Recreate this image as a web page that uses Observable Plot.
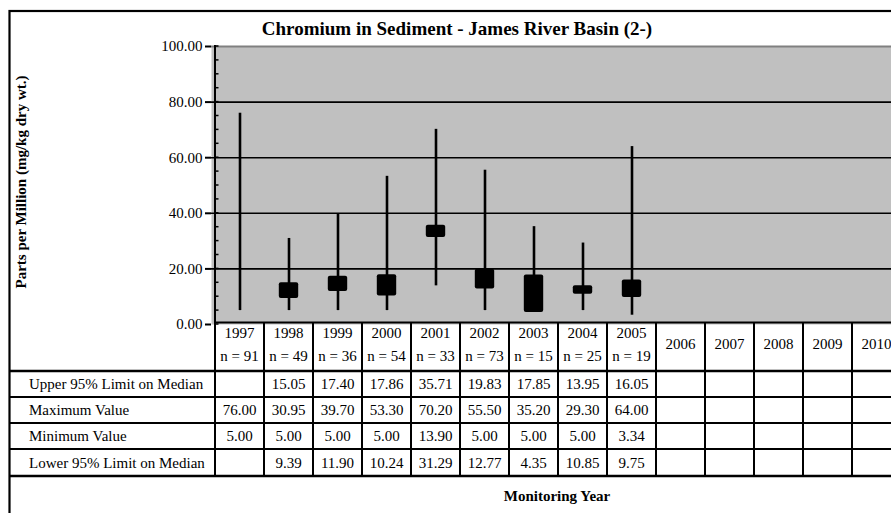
<!DOCTYPE html>
<html><head><meta charset="utf-8">
<script src="https://cdn.jsdelivr.net/npm/d3@7"></script>
<script src="https://cdn.jsdelivr.net/npm/@observablehq/plot@0.6"></script>
<style>
body{margin:0;background:#fff;overflow:hidden}
#chart svg text{font-family:"Liberation Serif","Times New Roman",serif !important;}
</style>
</head><body><div id="chart"></div>
<script>
const years = ["1997","1998","1999","2000","2001","2002","2003","2004","2005","2006","2007","2008","2009","2010"];
const nCounts = ["n = 91","n = 49","n = 36","n = 54","n = 33","n = 73","n = 15","n = 25","n = 19",null,null,null,null,null];
const upper95 = [null,15.05,17.40,17.86,35.71,19.83,17.85,13.95,16.05,null,null,null,null,null];
const maxValue = [76.00,30.95,39.70,53.30,70.20,55.50,35.20,29.30,64.00,null,null,null,null,null];
const minValue = [5.00,5.00,5.00,5.00,13.90,5.00,5.00,5.00,3.34,null,null,null,null,null];
const lower95 = [null,9.39,11.90,10.24,31.29,12.77,4.35,10.85,9.75,null,null,null,null,null];
const rowLabels = ["Upper 95% Limit on Median","Maximum Value","Minimum Value","Lower 95% Limit on Median"];
const rowValues = [upper95, maxValue, minValue, lower95];
const yTicks = [0,20,40,60,80,100];
const yMinorTicks = d3.range(0,101,5);
const titleText = "Chromium in Sediment - James River Basin (2-)";
const yLabel = "Parts per Million (mg/kg dry wt.)";
const xLabel = "Monitoring Year";

const stats = years.map((year,i)=>({year, n:nCounts[i], upper:upper95[i], max:maxValue[i], min:minValue[i], lower:lower95[i]}));
const whiskers = stats.filter(d=>d.max!=null);
const boxes = stats.filter(d=>d.upper!=null);

const FONT = "Liberation Serif, Times New Roman, serif";
const W = 891, H = 513;
const chart = Plot.plot({
  width: W, height: H,
  marginLeft: 211, marginRight: 0, marginTop: 46, marginBottom: 189,
  style: {fontFamily: FONT, background: "#fff", color: "#000", overflow: "hidden"},
  x: {type: "band", domain: years, range: [211, 905.4], padding: 0, axis: null},
  y: {domain: [0,100], axis: null},
  marks: [
    Plot.frame({fill: "#c0c0c0", stroke: null}),
    Plot.ruleY([20,40,60,80], {stroke: "#000", strokeWidth: 1.6}),
    Plot.ruleY([100], {stroke: "#808080", strokeWidth: 2}),
    Plot.ruleX(whiskers, {x: "year", y1: "min", y2: "max", stroke: "#000", strokeWidth: 2.6}),
    Plot.barY(boxes, {x: "year", y1: "lower", y2: "upper", fill: "#000", insetLeft: 14.8, insetRight: 14.8, rx: 2}),
    Plot.axisY(yTicks, {tickSize: 6, tickPadding: 3, fontSize: 15, tickFormat: d => d.toFixed(2), strokeWidth: 2})
  ]
});
document.getElementById("chart").appendChild(chart);

const svg = d3.select(chart);
const xs = chart.scale("x");
const ys = chart.scale("y");
const bw = xs.bandwidth;
const y0 = ys.apply(0), yTop = ys.apply(100);
const axisX = xs.apply(years[0]);

// outer frame
svg.append("rect").attr("x", 9.5).attr("y", 11).attr("width", 1000).attr("height", 600)
  .attr("fill", "none").attr("stroke", "#000").attr("stroke-width", 2.2);

// y axis line and minor ticks
svg.append("line").attr("x1", axisX).attr("x2", axisX).attr("y1", yTop - 1).attr("y2", y0)
  .attr("stroke", "#000").attr("stroke-width", 2);
svg.append("g").selectAll("line").data(yMinorTicks).join("line")
  .attr("x1", axisX).attr("x2", axisX + 3.5)
  .attr("y1", d => ys.apply(d)).attr("y2", d => ys.apply(d))
  .attr("stroke", "#000").attr("stroke-width", 1.5);

// title & axis labels
svg.append("text").attr("x", 457).attr("y", 35).attr("text-anchor", "middle")
  .attr("font-weight", "bold").attr("font-size", 19).attr("fill", "#000").text(titleText);
svg.append("text").attr("transform", "translate(26,182) rotate(-90)").attr("text-anchor", "middle")
  .attr("font-weight", "bold").attr("font-size", 15).attr("fill", "#000").text(yLabel);

// table
const tableTop = y0 - 1.5;
const rowBounds = [371, 397, 423, 449, 476];
const g = svg.append("g").attr("font-size", 15).attr("fill", "#000");
g.append("line").attr("x1", axisX).attr("x2", W).attr("y1", tableTop).attr("y2", tableTop)
  .attr("stroke", "#000").attr("stroke-width", 2.2);
rowBounds.forEach((yy, i) => {
  g.append("line").attr("x1", 9.5).attr("x2", W).attr("y1", yy).attr("y2", yy)
    .attr("stroke", "#000").attr("stroke-width", (i === 0 || i === rowBounds.length - 1) ? 2.6 : 2);
});
years.forEach(yr => {
  const xx = xs.apply(yr);
  g.append("line").attr("x1", xx).attr("x2", xx).attr("y1", tableTop).attr("y2", rowBounds[rowBounds.length - 1])
    .attr("stroke", "#000").attr("stroke-width", 2);
});
stats.forEach(d => {
  const cx = xs.apply(d.year) + bw / 2;
  if (d.n) {
    g.append("text").attr("x", cx).attr("y", 338).attr("text-anchor", "middle").text(d.year);
    g.append("text").attr("x", cx).attr("y", 361).attr("text-anchor", "middle").text(d.n);
  } else {
    g.append("text").attr("x", cx).attr("y", 349).attr("text-anchor", "middle").text(d.year);
  }
});
rowLabels.forEach((lab, r) => {
  const cy = (rowBounds[r] + rowBounds[r + 1]) / 2 + 5;
  g.append("text").attr("x", 29).attr("y", cy).attr("text-anchor", "start").text(lab);
  rowValues[r].forEach((v, i) => {
    if (v == null) return;
    g.append("text").attr("x", xs.apply(years[i]) + bw / 2).attr("y", cy).attr("text-anchor", "middle").text(v.toFixed(2));
  });
});
g.append("text").attr("x", 557).attr("y", 501).attr("text-anchor", "middle").attr("font-weight", "bold").text(xLabel);
</script>
</body></html>
